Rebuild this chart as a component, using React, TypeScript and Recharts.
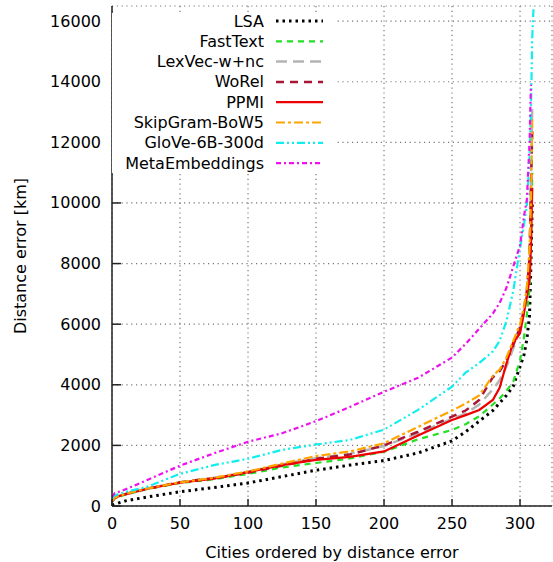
import React from "react";
import { CartesianGrid, Legend, Line, LineChart, XAxis, YAxis } from "recharts";

const rank = [0, 2, 10, 25, 50, 75, 100, 125, 150, 175, 200, 225, 250, 260, 270, 280, 285, 290, 295, 300, 303, 305, 307, 308, 309, 310];

const lsa = [20, 60, 170, 290, 470, 610, 760, 970, 1180, 1350, 1500, 1750, 2150, 2450, 2800, 3150, 3400, 3650, 3950, 4600, 5000, 5500, 6300, 8000, 10000, null];
const fastText = [120, 250, 380, 550, 760, 880, 1060, 1270, 1420, 1570, 1790, 2200, 2510, 2700, 2960, 3350, 3550, 3800, 4100, 4800, 5600, 6300, 7200, 8500, 11000, null];
const lexVec = [150, 270, 400, 570, 790, 930, 1130, 1370, 1580, 1720, 1980, 2400, 2880, 3050, 3350, 3850, 4150, 4600, 5200, 5800, 6400, 7000, 8000, 10500, 13300, null];
const woRel = [150, 270, 390, 560, 780, 920, 1100, 1330, 1560, 1700, 2000, 2450, 2950, 3150, 3500, 4250, 4450, 4800, 5300, 5900, 6500, 7100, 8200, 10500, 12400, null];
const ppmi = [150, 280, 400, 560, 770, 900, 1120, 1350, 1520, 1620, 1800, 2330, 2840, 3000, 3170, 3500, 3900, 4700, 5400, 5700, 6400, 6900, 7500, 8500, 10500, null];
const skipGram = [150, 280, 400, 570, 780, 930, 1140, 1400, 1650, 1800, 2070, 2610, 3150, 3380, 3650, 4300, 4500, 4900, 5450, 6000, 6600, 7200, 8500, 10000, 12800, null];
const glove = [250, 350, 470, 620, 1060, 1350, 1560, 1850, 2030, 2180, 2520, 3170, 3940, 4400, 4720, 5100, 5450, 6100, 7100, 8500, 9300, 9900, 11500, 13000, 15500, 16500];
const metaEmb = [300, 420, 550, 840, 1330, 1740, 2120, 2400, 2800, 3270, 3770, 4230, 4900, 5350, 5850, 6350, 6700, 7200, 7900, 8600, 9600, 10100, 12000, 13900, null, null];

const xTicks = [0, 50, 100, 150, 200, 250, 300];
const yTicks = [0, 2000, 4000, 6000, 8000, 10000, 12000, 14000, 16000];

const data = rank.map((x, i) => ({
  x,
  lsa: lsa[i],
  fastText: fastText[i],
  lexVec: lexVec[i],
  woRel: woRel[i],
  ppmi: ppmi[i],
  skipGram: skipGram[i],
  glove: glove[i],
  metaEmb: metaEmb[i],
}));

const series = [
  { key: "lsa", name: "LSA", color: "#000000", width: 3, dash: "2.5 4" },
  { key: "fastText", name: "FastText", color: "#22e022", width: 2.2, dash: "6 5" },
  { key: "lexVec", name: "LexVec-w+nc", color: "#b4b4b4", width: 2.5, dash: "11 6" },
  { key: "woRel", name: "WoRel", color: "#a81535", width: 2.5, dash: "8 6" },
  { key: "ppmi", name: "PPMI", color: "#ee0000", width: 2.2, dash: undefined },
  { key: "skipGram", name: "SkipGram-BoW5", color: "#ffa500", width: 2.2, dash: "9 3 3 3" },
  { key: "glove", name: "GloVe-6B-300d", color: "#11eeee", width: 2.2, dash: "8 3 2 3 2 3" },
  { key: "metaEmb", name: "MetaEmbeddings", color: "#ee11ee", width: 2.2, dash: "5 3 2 3" },
];

const font = "'DejaVu Sans', sans-serif";
const frame = "#222";

const BottomTick = (props: any) => {
  const { x, y, payload } = props;
  return (
    <g>
      <line x1={x} y1={y} x2={x} y2={y - 7} stroke={frame} strokeWidth={1.5} />
      <text x={x} y={y + 17} textAnchor="middle" dominantBaseline="central" fontFamily={font} fontSize={16} fill="#000">
        {payload.value}
      </text>
    </g>
  );
};

const LeftTick = (props: any) => {
  const { x, y, payload } = props;
  return (
    <g>
      <line x1={x} y1={y} x2={x + 9} y2={y} stroke={frame} strokeWidth={1.5} />
      <text x={x - 11} y={y} textAnchor="end" dominantBaseline="central" fontFamily={font} fontSize={16} fill="#000">
        {payload.value}
      </text>
    </g>
  );
};

const TopTick = (props: any) => {
  const { x, y } = props;
  return <line x1={x} y1={y} x2={x} y2={y + 7} stroke={frame} strokeWidth={1.5} />;
};

const RightTick = (props: any) => {
  const { x, y } = props;
  return <line x1={x} y1={y} x2={x - 9} y2={y} stroke={frame} strokeWidth={1.5} />;
};

const renderLegend = () => (
  <svg width={222} height={160} style={{ display: "block", background: "#fff" }}>
    {series.map((s, i) => {
      const cy = 8 + i * 20.3;
      return (
        <g key={s.key}>
          <text x={152} y={cy} textAnchor="end" dominantBaseline="central" fontFamily={font} fontSize={16} fill="#000">
            {s.name}
          </text>
          <line x1={164} x2={211} y1={cy} y2={cy} stroke={s.color} strokeWidth={s.width} strokeDasharray={s.dash} />
        </g>
      );
    })}
  </svg>
);

const App = () => {
  return (
    <div style={{ position: "absolute", left: 0, top: 0 }}>
      <LineChart width={553} height={562} data={data} margin={{ top: 6, right: 1, bottom: 0, left: 0 }}>
        <CartesianGrid stroke="#777" strokeWidth={1.2} strokeDasharray="1.2 3.6" />
        <XAxis
          dataKey="x"
          type="number"
          domain={[0, 323.5]}
          ticks={xTicks}
          allowDataOverflow
          height={56}
          tickSize={0}
          tickMargin={0}
          tick={<BottomTick />}
          axisLine={{ stroke: frame, strokeWidth: 1.5 }}
          label={() => (
            <text x={332} y={552} textAnchor="middle" dominantBaseline="central" fontFamily={font} fontSize={16} fill="#000">
              Cities ordered by distance error
            </text>
          )}
        />
        <XAxis
          xAxisId="top"
          orientation="top"
          type="number"
          domain={[0, 323.5]}
          ticks={xTicks}
          allowDataOverflow
          height={0}
          tickSize={0}
          tickMargin={0}
          tick={<TopTick />}
          axisLine={{ stroke: frame, strokeWidth: 1.5 }}
        />
        <YAxis
          type="number"
          domain={[0, 16500]}
          ticks={yTicks}
          allowDataOverflow
          width={112}
          tickSize={0}
          tickMargin={0}
          tick={<LeftTick />}
          axisLine={{ stroke: frame, strokeWidth: 1.5 }}
          label={() => (
            <text
              x={20}
              y={256}
              transform="rotate(-90 20 256)"
              textAnchor="middle"
              dominantBaseline="central"
              fontFamily={font}
              fontSize={16}
              fill="#000"
            >
              Distance error [km]
            </text>
          )}
        />
        <YAxis
          yAxisId="right"
          orientation="right"
          type="number"
          domain={[0, 16500]}
          ticks={yTicks}
          allowDataOverflow
          width={0}
          tickSize={0}
          tickMargin={0}
          tick={<RightTick />}
          axisLine={{ stroke: frame, strokeWidth: 1.5 }}
        />
        <Legend
          layout="vertical"
          align="center"
          verticalAlign="middle"
          content={renderLegend}
          wrapperStyle={{ left: 112, top: 13, width: 222, height: 160 }}
        />
        {series.map((s) => (
          <Line
            key={s.key}
            dataKey={s.key}
            name={s.name}
            stroke={s.color}
            strokeWidth={s.width}
            strokeDasharray={s.dash}
            dot={false}
            activeDot={false}
            type="linear"
            isAnimationActive={false}
          />
        ))}
      </LineChart>
    </div>
  );
};

export default App;
